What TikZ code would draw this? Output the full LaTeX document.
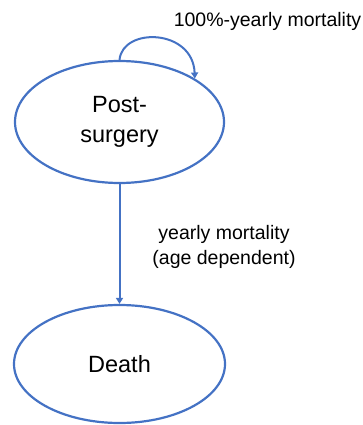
\documentclass[tikz,border=0pt]{standalone}
\usepackage{fontspec}
\setmainfont{Liberation Sans}
\usetikzlibrary{shapes.geometric,arrows.meta}
\definecolor{lineblue}{HTML}{4472C4}
\tikzset{
  state/.style={ellipse,draw=lineblue,line width=2.2pt,inner sep=0pt,align=center,
    font=\fontsize{23.5}{30}\selectfont},
  lbl/.style={align=center,font=\fontsize{19.5}{25}\selectfont,inner sep=0pt},
  conn/.style={draw=lineblue,line width=2pt,-{Triangle[length=6pt,width=7pt]}}
}
\begin{document}
\begin{tikzpicture}[x=1pt,y=-1pt]
\useasboundingbox (0,0) rectangle (363,425);
\node[state,minimum width=209pt,minimum height=122pt] (P) at (119.5,122) {Post-\\surgery};
\node[state,minimum width=211pt,minimum height=118pt] (D) at (119.5,364) {Death};
\draw[conn] (P.south) -- (D.north);
\draw[conn] (P.north) .. controls +(3,-33) and +(-2,-50) .. (P.30);
\node[lbl] (L1) at (267.5,21) {100\%-yearly mortality};
\node[lbl] (L2) at (224,247) {yearly mortality\\(age dependent)};
\end{tikzpicture}
\end{document}
